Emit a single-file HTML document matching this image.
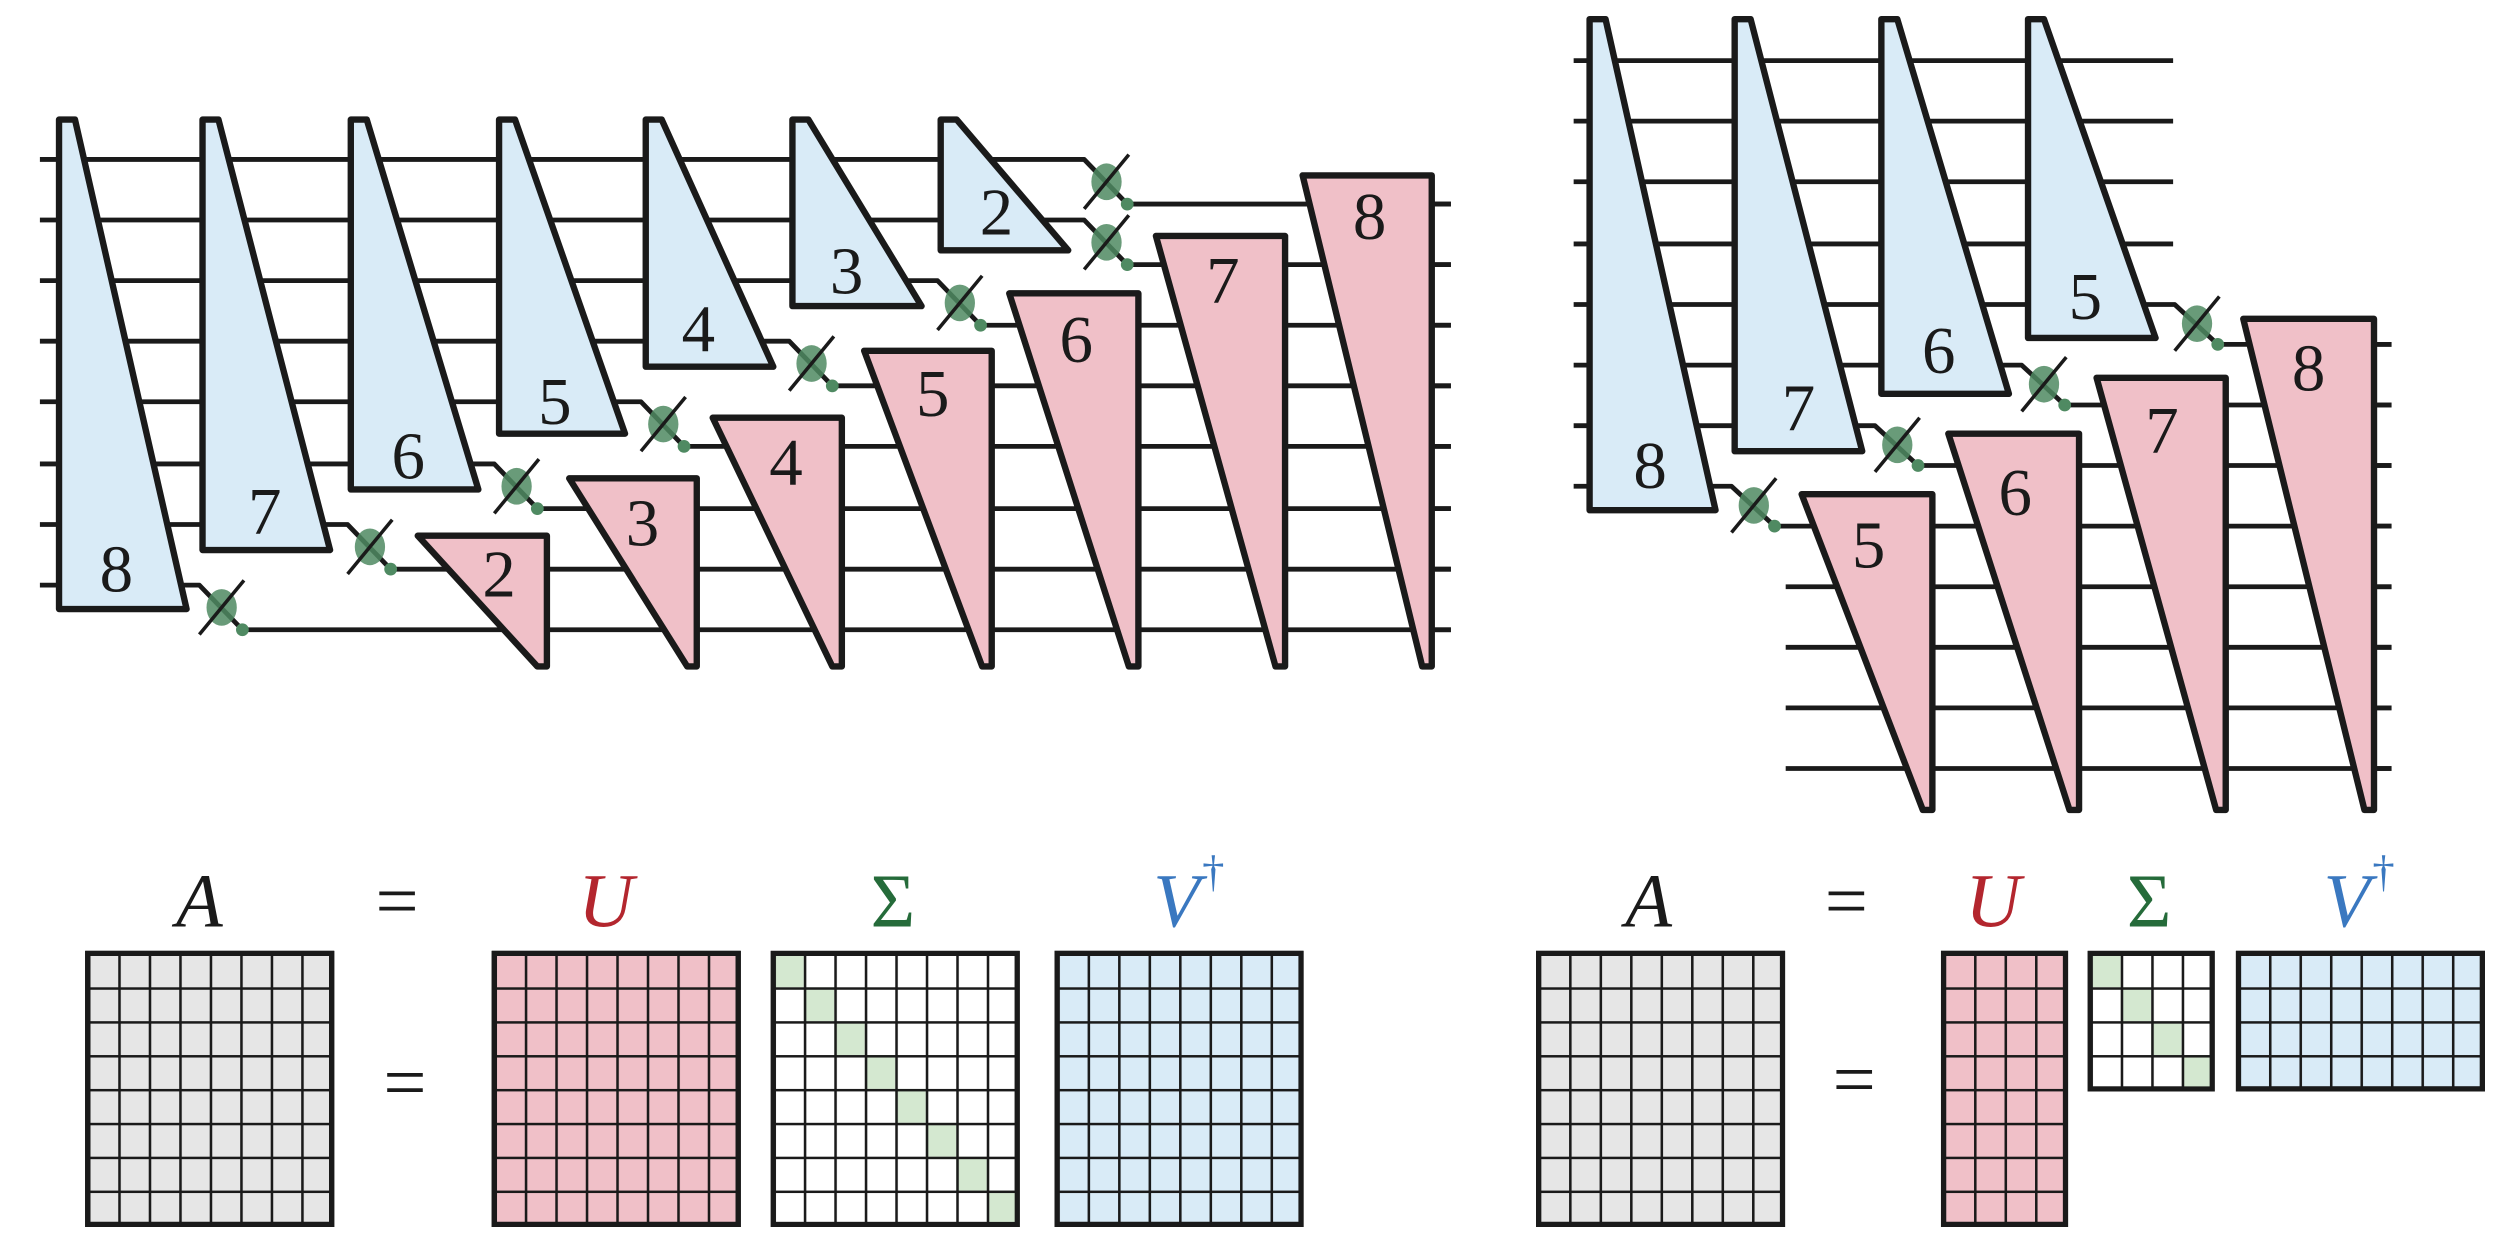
<!DOCTYPE html>
<html><head><meta charset="utf-8"><style>html,body{margin:0;padding:0;background:#fff}svg{display:block}</style></head>
<body>
<svg width="2500" height="1260" viewBox="0 0 1568 790.3" xmlns="http://www.w3.org/2000/svg">
<defs>
<pattern id="gr" width="19.125" height="21.25" patternUnits="userSpaceOnUse"><path d="M0 0H19.125M0 0V21.25" stroke="#1a1a1a" stroke-width="3.2" fill="none"/></pattern>
</defs>
<g fill="none" stroke="#1a1a1a" stroke-width="3" stroke-linejoin="round">
<path d="M25 100H680L707 128H910"/>
<path d="M25 138H680L707 166H910"/>
<path d="M25 176H588L615 204H910"/>
<path d="M25 214H495L522 242H910"/>
<path d="M25 252H402L429 280H910"/>
<path d="M25 291H310L337 319H910"/>
<path d="M25 329H218L245 357H910"/>
<path d="M25 367H125L152 395H910"/>
<path d="M987 38H1363M987 76H1363M987 114H1363M987 153H1363"/>
<path d="M987 191H1364L1391 216H1500"/>
<path d="M987 229H1268L1295 254H1500"/>
<path d="M987 267H1176L1203 292H1500"/>
<path d="M987 305H1086L1113 330H1500"/>
<path d="M1120 368H1500M1120 406H1500M1120 444H1500M1120 482H1500"/>
</g>
<g stroke="#1a1a1a" stroke-width="4" stroke-linejoin="round" fill="#d9ebf7">
<path d="M37 75H47L117 382H37Z"/>
<path d="M127 75H137L207 345H127Z"/>
<path d="M220 75H230L300 307H220Z"/>
<path d="M313 75H323L392 272H313Z"/>
<path d="M405 75H415L485 230H405Z"/>
<path d="M497 75H507L578 192H497Z"/>
<path d="M590 75H600L670 157H590Z"/>
<path d="M997 12H1007L1076 320H997Z"/>
<path d="M1088 12H1098L1168 283H1088Z"/>
<path d="M1180 12H1190L1260 247H1180Z"/>
<path d="M1272 12H1282L1352 212H1272Z"/>
</g>
<g stroke="#1a1a1a" stroke-width="4" stroke-linejoin="round" fill="#f0c0c8">
<path d="M262 336H343V418H337Z"/>
<path d="M357 300H437V418H431Z"/>
<path d="M447 262H528V418H522Z"/>
<path d="M542 220H622V418H616Z"/>
<path d="M633 184H714V418H708Z"/>
<path d="M725 148H806V418H800Z"/>
<path d="M817 110H898V418H892Z"/>
<path d="M1130 310H1212V508H1206Z"/>
<path d="M1222 272H1304V508H1298Z"/>
<path d="M1315 237H1396V508H1390Z"/>
<path d="M1407 200H1489V508H1483Z"/>
</g>
<g stroke="#1a1a1a" stroke-width="3">
<path d="M898 128H910M898 166H910M898 204H910M898 242H910M898 280H910M898 319H910M898 357H910M898 395H910"/>
<path d="M1489 216H1500M1489 254H1500M1489 292H1500M1489 330H1500M1489 368H1500M1489 406H1500M1489 444H1500M1489 482H1500"/>
</g>
<g>
<g transform="translate(694,114)"><ellipse rx="9.5" ry="11.5" fill="#4f8a62" opacity=".85"/><path d="M-14 17L14 -17" stroke="#1a1a1a" stroke-width="2.2"/><circle cx="13" cy="14" r="4" fill="#4f8a62"/></g>
<g transform="translate(694,152)"><ellipse rx="9.5" ry="11.5" fill="#4f8a62" opacity=".85"/><path d="M-14 17L14 -17" stroke="#1a1a1a" stroke-width="2.2"/><circle cx="13" cy="14" r="4" fill="#4f8a62"/></g>
<g transform="translate(602,190)"><ellipse rx="9.5" ry="11.5" fill="#4f8a62" opacity=".85"/><path d="M-14 17L14 -17" stroke="#1a1a1a" stroke-width="2.2"/><circle cx="13" cy="14" r="4" fill="#4f8a62"/></g>
<g transform="translate(509,228)"><ellipse rx="9.5" ry="11.5" fill="#4f8a62" opacity=".85"/><path d="M-14 17L14 -17" stroke="#1a1a1a" stroke-width="2.2"/><circle cx="13" cy="14" r="4" fill="#4f8a62"/></g>
<g transform="translate(416,266)"><ellipse rx="9.5" ry="11.5" fill="#4f8a62" opacity=".85"/><path d="M-14 17L14 -17" stroke="#1a1a1a" stroke-width="2.2"/><circle cx="13" cy="14" r="4" fill="#4f8a62"/></g>
<g transform="translate(324,305)"><ellipse rx="9.5" ry="11.5" fill="#4f8a62" opacity=".85"/><path d="M-14 17L14 -17" stroke="#1a1a1a" stroke-width="2.2"/><circle cx="13" cy="14" r="4" fill="#4f8a62"/></g>
<g transform="translate(232,343)"><ellipse rx="9.5" ry="11.5" fill="#4f8a62" opacity=".85"/><path d="M-14 17L14 -17" stroke="#1a1a1a" stroke-width="2.2"/><circle cx="13" cy="14" r="4" fill="#4f8a62"/></g>
<g transform="translate(139,381)"><ellipse rx="9.5" ry="11.5" fill="#4f8a62" opacity=".85"/><path d="M-14 17L14 -17" stroke="#1a1a1a" stroke-width="2.2"/><circle cx="13" cy="14" r="4" fill="#4f8a62"/></g>
<g transform="translate(1378,203)"><ellipse rx="9.5" ry="11.5" fill="#4f8a62" opacity=".85"/><path d="M-14 17L14 -17" stroke="#1a1a1a" stroke-width="2.2"/><circle cx="13" cy="13" r="4" fill="#4f8a62"/></g>
<g transform="translate(1282,241)"><ellipse rx="9.5" ry="11.5" fill="#4f8a62" opacity=".85"/><path d="M-14 17L14 -17" stroke="#1a1a1a" stroke-width="2.2"/><circle cx="13" cy="13" r="4" fill="#4f8a62"/></g>
<g transform="translate(1190,279)"><ellipse rx="9.5" ry="11.5" fill="#4f8a62" opacity=".85"/><path d="M-14 17L14 -17" stroke="#1a1a1a" stroke-width="2.2"/><circle cx="13" cy="13" r="4" fill="#4f8a62"/></g>
<g transform="translate(1100,317)"><ellipse rx="9.5" ry="11.5" fill="#4f8a62" opacity=".85"/><path d="M-14 17L14 -17" stroke="#1a1a1a" stroke-width="2.2"/><circle cx="13" cy="13" r="4" fill="#4f8a62"/></g>
</g>
<g font-family="Liberation Serif, serif" font-size="42" fill="#1a1a1a" text-anchor="middle">
<text x="73" y="371">8</text><text x="166" y="335">7</text><text x="256" y="300">6</text><text x="348" y="266">5</text><text x="438" y="220">4</text><text x="531" y="184">3</text><text x="625" y="147">2</text>
<text x="313" y="374">2</text><text x="403" y="342">3</text><text x="493" y="304">4</text><text x="585" y="261">5</text><text x="675" y="227">6</text><text x="767" y="190">7</text><text x="859" y="150">8</text>
<text x="1035" y="306">8</text><text x="1128" y="270">7</text><text x="1216" y="234">6</text><text x="1308" y="200">5</text>
<text x="1172" y="356">5</text><text x="1264" y="323">6</text><text x="1356" y="284">7</text><text x="1448" y="245">8</text>
</g>
<g font-family="Liberation Serif, serif" font-size="48" text-anchor="middle">
<text x="125" y="581" font-style="italic" fill="#1a1a1a">A</text>
<text x="249" y="581" fill="#1a1a1a">=</text>
<text x="380" y="581" font-style="italic" fill="#b3262e">U</text>
<text x="560" y="581" fill="#256b3a">Σ</text>
<text x="738" y="581" font-style="italic" fill="#3a78c0">V</text>
<text x="761" y="556" font-size="28" fill="#3a78c0">†</text>
<text x="254" y="695" fill="#1a1a1a">=</text>
<text x="1034" y="581" font-style="italic" fill="#1a1a1a">A</text>
<text x="1158" y="581" fill="#1a1a1a">=</text>
<text x="1250" y="581" font-style="italic" fill="#b3262e">U</text>
<text x="1348" y="581" fill="#256b3a">Σ</text>
<text x="1472" y="581" font-style="italic" fill="#3a78c0">V</text>
<text x="1495" y="556" font-size="28" fill="#3a78c0">†</text>
<text x="1163" y="693" fill="#1a1a1a">=</text>
</g>
<g stroke="#1a1a1a" stroke-width="3.2">
<g transform="translate(55,598)"><rect width="153" height="170" fill="#e6e6e6"/><rect width="153" height="170" fill="url(#gr)"/><rect width="153" height="170" fill="none"/></g>
<g transform="translate(310,598)"><rect width="153" height="170" fill="#f0c0c8"/><rect width="153" height="170" fill="url(#gr)"/><rect width="153" height="170" fill="none"/></g>
<g transform="translate(485,598)"><rect width="153" height="170" fill="#fff"/>
<g fill="#d4e8d0" stroke="none"><rect x="0" y="0" width="19.1" height="21.25"/><rect x="19.1" y="21.25" width="19.1" height="21.25"/><rect x="38.25" y="42.5" width="19.1" height="21.25"/><rect x="57.4" y="63.75" width="19.1" height="21.25"/><rect x="76.5" y="85" width="19.1" height="21.25"/><rect x="95.6" y="106.25" width="19.1" height="21.25"/><rect x="114.75" y="127.5" width="19.1" height="21.25"/><rect x="133.9" y="148.75" width="19.1" height="21.25"/></g>
<rect width="153" height="170" fill="url(#gr)" stroke="none"/><rect width="153" height="170" fill="none"/></g>
<g transform="translate(663,598)"><rect width="153" height="170" fill="#d9ebf7"/><rect width="153" height="170" fill="url(#gr)"/><rect width="153" height="170" fill="none"/></g>
<g transform="translate(965,598)"><rect width="153" height="170" fill="#e6e6e6"/><rect width="153" height="170" fill="url(#gr)"/><rect width="153" height="170" fill="none"/></g>
<g transform="translate(1219,598)"><rect width="76.5" height="170" fill="#f0c0c8"/><rect width="76.5" height="170" fill="url(#gr)"/><rect width="76.5" height="170" fill="none"/></g>
<g transform="translate(1311,598)"><rect width="76.5" height="85" fill="#fff"/>
<g fill="#d4e8d0" stroke="none"><rect x="0" y="0" width="19.1" height="21.25"/><rect x="19.1" y="21.25" width="19.1" height="21.25"/><rect x="38.25" y="42.5" width="19.1" height="21.25"/><rect x="57.4" y="63.75" width="19.1" height="21.25"/></g>
<rect width="76.5" height="85" fill="url(#gr)" stroke="none"/><rect width="76.5" height="85" fill="none"/></g>
<g transform="translate(1404,598)"><rect width="153" height="85" fill="#d9ebf7"/><rect width="153" height="85" fill="url(#gr)"/><rect width="153" height="85" fill="none"/></g>
</g>
</svg>
</body></html>
